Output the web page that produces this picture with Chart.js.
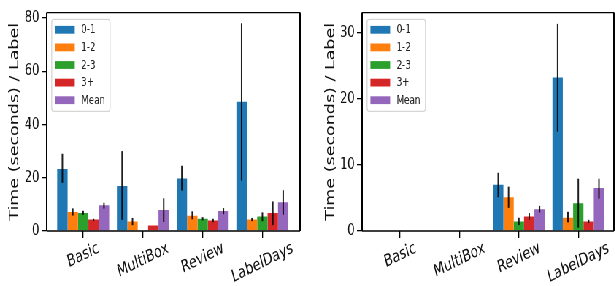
<!DOCTYPE html>
<html>
<head>
<meta charset="utf-8">
<script src="https://cdn.jsdelivr.net/npm/chart.js@4.4.0/dist/chart.umd.min.js"></script>
<style>
  html, body { margin: 0; padding: 0; background: #fff; overflow: hidden; }
  /* the reference is horizontally squeezed, so draw wide and compress */
  #wrap { display: flex; width: 842px; height: 286px; transform: scaleX(0.73); transform-origin: 0 0; }
  canvas { display: block; }
</style>
</head>
<body>
<div id="wrap">
  <canvas id="leftChart" width="425" height="286"></canvas>
  <canvas id="rightChart" width="417" height="286"></canvas>
</div>
<script>
// categories and series
const categories = ['Basic', 'MultiBox', 'Review', 'LabelDays'];
const seriesNames = ['0-1', '1-2', '2-3', '3+', 'Mean'];
const seriesColors = ['#1f77b4', '#ff7f0e', '#2ca02c', '#d62728', '#9467bd'];

// left panel: bar heights
const left01 = [23.3, 16.9, 19.7, 48.5];
const left12 = [7.1, 3.6, 5.7, 4.3];
const left23 = [6.8, null, 4.6, 5.4];
const left3p = [4.3, 2.1, 3.9, 6.8];
const leftMean = [9.7, 7.9, 7.5, 10.8];
// left panel: error bar ends
const left01Low = [18.1, 4.2, 15.2, 18.9];
const left01High = [29.0, 30.0, 24.5, 78.0];
const left12Low = [5.8, 2.2, 4.4, 3.7];
const left12High = [8.5, 4.9, 7.4, 4.9];
const left23Low = [6.1, null, 4.0, 3.7];
const left23High = [7.6, null, 5.2, 7.0];
const left3pLow = [3.7, null, 3.3, 2.2];
const left3pHigh = [4.6, null, 4.6, 11.1];
const leftMeanLow = [8.4, 3.4, 6.3, 6.1];
const leftMeanHigh = [10.6, 12.3, 8.6, 15.3];

// right panel: bar heights
const right01 = [null, null, 7.0, 23.2];
const right12 = [null, null, 5.1, 2.0];
const right23 = [null, null, 1.45, 4.2];
const right3p = [null, null, 2.2, 1.45];
const rightMean = [null, null, 3.3, 6.5];
// right panel: error bar ends
const right01Low = [null, null, 5.1, 15.0];
const right01High = [null, null, 8.8, 31.3];
const right12Low = [null, null, 3.5, 1.3];
const right12High = [null, null, 6.7, 2.9];
const right23Low = [null, null, 0.9, 0.5];
const right23High = [null, null, 2.0, 7.9];
const right3pLow = [null, null, 1.7, 1.2];
const right3pHigh = [null, null, 2.7, 1.7];
const rightMeanLow = [null, null, 2.8, 4.9];
const rightMeanHigh = [null, null, 3.8, 7.9];

// tick labels
const leftYTicks = [0, 20, 40, 60, 80];
const rightYTicks = [0, 10, 20, 30];
const yTitle = 'Time (seconds) / Label';

const FONT = "'DejaVu Sans', sans-serif";
const ANGLE = 20 * Math.PI / 180;

// error bars, frame, rotated x labels, y title and legend
const decorPlugin = {
  id: 'decor',
  afterDatasetsDraw(chart) {
    const ctx = chart.ctx;
    const ys = chart.scales.y;
    ctx.save();
    ctx.strokeStyle = 'rgba(0,0,0,0.88)';
    ctx.lineWidth = 2;
    chart.data.datasets.forEach((ds, i) => {
      const meta = chart.getDatasetMeta(i);
      meta.data.forEach((bar, j) => {
        const lo = ds.errLow[j];
        const hi = ds.errHigh[j];
        if (lo == null || hi == null || ds.data[j].y == null) return;
        ctx.beginPath();
        ctx.moveTo(bar.x, ys.getPixelForValue(lo));
        ctx.lineTo(bar.x, ys.getPixelForValue(hi));
        ctx.stroke();
      });
    });
    ctx.restore();
  },
  afterDraw(chart, args, opts) {
    const ctx = chart.ctx;
    const a = chart.chartArea;
    ctx.save();

    // frame
    ctx.strokeStyle = '#000';
    ctx.lineWidth = 1.4;
    ctx.beginPath();
    ctx.moveTo(a.left, a.top); ctx.lineTo(a.right, a.top);
    ctx.moveTo(a.left, a.bottom); ctx.lineTo(a.right, a.bottom);
    ctx.stroke();
    ctx.lineWidth = 2;
    ctx.beginPath();
    ctx.moveTo(a.left, a.top); ctx.lineTo(a.left, a.bottom);
    ctx.moveTo(a.right, a.top); ctx.lineTo(a.right, a.bottom);
    ctx.stroke();

    // x labels, rotated 20 deg and centred under the tick
    const xs = chart.scales.x;
    ctx.fillStyle = '#111';
    ctx.font = '17px ' + FONT;
    categories.forEach((c, i) => {
      const w = ctx.measureText(c).width;
      const bh = w * Math.sin(ANGLE) + 17 * 1.1 * Math.cos(ANGLE);
      const cx = xs.getPixelForValue(i);
      const cy = a.bottom + 8 + bh / 2;
      ctx.save();
      ctx.translate(cx, cy);
      ctx.rotate(-ANGLE);
      ctx.textAlign = 'center';
      ctx.textBaseline = 'middle';
      ctx.fillText(c, 0, 0);
      ctx.restore();
    });

    // y title
    ctx.save();
    ctx.font = '17.5px ' + FONT;
    ctx.translate(opts.titleX, (a.top + a.bottom) / 2);
    ctx.rotate(-Math.PI / 2);
    ctx.textAlign = 'center';
    ctx.textBaseline = 'middle';
    ctx.fillText(yTitle, 0, 0);
    ctx.restore();

    // legend
    const lx = a.left + 6.8;
    const ly = a.top + 6.7;
    ctx.fillStyle = 'rgba(255,255,255,0.8)';
    ctx.strokeStyle = '#d6d6d6';
    ctx.lineWidth = 1.3;
    ctx.beginPath();
    ctx.roundRect(lx, ly, 80, 92, 3);
    ctx.fill();
    ctx.stroke();
    ctx.font = '12px ' + FONT;
    ctx.textAlign = 'left';
    ctx.textBaseline = 'middle';
    chart.data.datasets.forEach((ds, i) => {
      const cy = ly + 10.5 + i * 17.6;
      ctx.fillStyle = ds.backgroundColor;
      ctx.fillRect(lx + 4.6, cy - 3.9, 27, 7.8);
      ctx.fillStyle = '#222';
      ctx.fillText(ds.label, lx + 40.4, cy + 0.5);
    });

    ctx.restore();
  }
};

function buildDatasets(vals, lows, highs) {
  return seriesNames.map((name, s) => ({
    label: name,
    data: vals[s].map((v, i) => ({ x: i, y: v })),
    errLow: lows[s],
    errHigh: highs[s],
    backgroundColor: seriesColors[s],
    borderWidth: 0,
    barPercentage: 1,
    categoryPercentage: 0.87,
  }));
}

function makeChart(id, datasets, cfg) {
  return new Chart(document.getElementById(id), {
    type: 'bar',
    data: { datasets: datasets },
    plugins: [decorPlugin],
    options: {
      responsive: false,
      animation: false,
      devicePixelRatio: 1,
      layout: { padding: { top: 4, right: cfg.padRight, left: 0, bottom: 0 } },
      plugins: {
        legend: { display: false },
        tooltip: { enabled: false },
        decor: { titleX: cfg.titleX },
      },
      scales: {
        x: {
          type: 'linear',
          min: cfg.xMin,
          max: cfg.xMax,
          offset: false,
          afterBuildTicks: (s) => { s.ticks = categories.map((c, i) => ({ value: i })); },
          afterFit: (s) => { s.height = 55; },
          ticks: { display: false },
          grid: { offset: false, drawOnChartArea: false, tickLength: 7, color: '#000', lineWidth: 1.3 },
          border: { display: false },
        },
        y: {
          min: 0,
          max: cfg.yMax,
          afterBuildTicks: (s) => { s.ticks = cfg.yTicks.map((v) => ({ value: v })); },
          afterFit: (s) => { s.width = cfg.axisWidth; },
          ticks: { font: { family: FONT, size: 16 }, color: '#111', padding: 3 },
          grid: { drawOnChartArea: false, tickLength: 7, color: '#000', lineWidth: 1.3 },
          border: { display: false },
        },
      },
    },
  });
}

makeChart('leftChart',
  buildDatasets(
    [left01, left12, left23, left3p, leftMean],
    [left01Low, left12Low, left23Low, left3pLow, leftMeanLow],
    [left01High, left12High, left23High, left3pHigh, leftMeanHigh]),
  { yMax: 82, yTicks: leftYTicks, xMin: -0.61, xMax: 3.63, axisWidth: 64, padRight: 14, titleX: 20.6 });

makeChart('rightChart',
  buildDatasets(
    [right01, right12, right23, right3p, rightMean],
    [right01Low, right12Low, right23Low, right3pLow, rightMeanLow],
    [right01High, right12High, right23High, right3pHigh, rightMeanHigh]),
  { yMax: 33, yTicks: rightYTicks, xMin: -0.64, xMax: 3.6, axisWidth: 71, padRight: 1, titleX: 28.5 });
</script>
</body>
</html>
